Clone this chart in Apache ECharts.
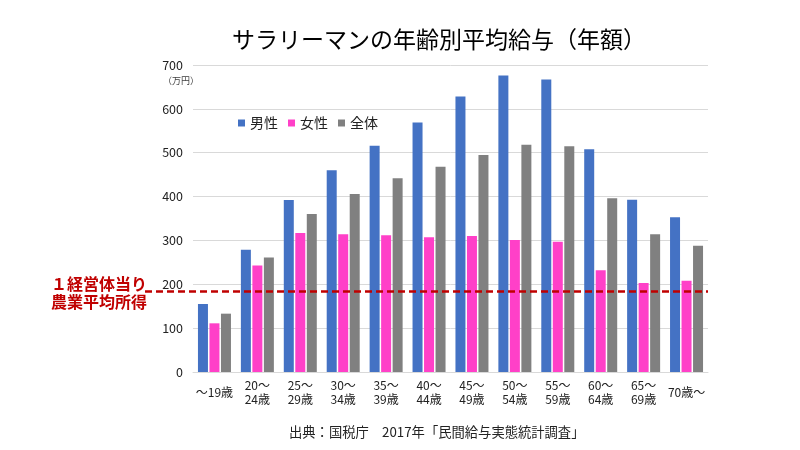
<!DOCTYPE html>
<html>
<head>
<meta charset="utf-8">
<script src="https://cdn.jsdelivr.net/npm/echarts@6/dist/echarts.min.js"></script>
<style>html,body{margin:0;padding:0;background:#fff;}#c{width:800px;height:450px;}</style>
</head>
<body>
<div id="c"></div>
<script>
const categories = ['～19歳','20～\n24歳','25～\n29歳','30～\n34歳','35～\n39歳','40～\n44歳','45～\n49歳','50～\n54歳','55～\n59歳','60～\n64歳','65～\n69歳','70歳～'];
const male   = [155, 279, 392, 460, 516, 569, 628, 676, 667, 508, 393, 353];
const female = [111, 243, 317, 314, 312, 307, 310, 301, 297, 232, 203, 208];
const total  = [133, 261, 360, 406, 442, 468, 495, 518, 515, 396, 314, 288];
const farmIncome = 185;
const yTicks = { min: 0, max: 700, interval: 100 };

const FONT = '"Noto Sans CJK JP", "Noto Sans", sans-serif';
const chart = echarts.init(document.getElementById('c'));
chart.setOption({
  backgroundColor: '#fff',
  animation: false,
  textStyle: { fontFamily: FONT },
  title: [
    { text: 'サラリーマンの年齢別平均給与（年額）', left: 227, top: 23,
      textStyle: { fontSize: 23, fontWeight: 'normal', color: '#000', fontFamily: FONT } },
    { text: '（万円）', left: 158, top: 71,
      textStyle: { fontSize: 9, fontWeight: 'normal', color: '#404040', fontFamily: FONT } },
    { text: '１経営体当り\n農業平均所得', left: 46, top: 270,
      textStyle: { fontSize: 16, fontWeight: 'bold', color: '#C00000', lineHeight: 18, fontFamily: FONT } },
    { text: '出典：国税庁　2017年「民間給与実態統計調査」', left: 284, top: 420,
      textStyle: { fontSize: 13.3, fontWeight: 'normal', color: '#222', fontFamily: FONT } }
  ],
  legend: {
    left: 233, top: 111, itemWidth: 7, itemHeight: 7, itemGap: 10, icon: 'rect',
    textStyle: { fontSize: 14, color: '#222', fontFamily: FONT },
    data: ['男性', '女性', '全体']
  },
  grid: [
    { left: 193, right: 92, top: 65, bottom: 78 },
    { left: 145, right: 92, top: 65, bottom: 78 }
  ],
  xAxis: [
    { type: 'category', data: categories, gridIndex: 0,
      axisLine: { lineStyle: { color: '#d9d9d9' } }, axisTick: { show: false },
      axisLabel: { color: '#222', fontSize: 12, lineHeight: 14, verticalAlign: 'middle', margin: 20, interval: 0, fontFamily: FONT } },
    { type: 'value', gridIndex: 1, show: false, min: 0, max: 1 }
  ],
  yAxis: [
    { type: 'value', gridIndex: 0, min: yTicks.min, max: yTicks.max, interval: yTicks.interval,
      axisLine: { show: false }, axisTick: { show: false },
      axisLabel: { color: '#222', fontSize: 12.5, margin: 10, fontFamily: FONT },
      splitLine: { lineStyle: { color: '#d9d9d9', width: 1 } } },
    { type: 'value', gridIndex: 1, show: false, min: yTicks.min, max: yTicks.max }
  ],
  series: [
    { name: '男性', type: 'bar', data: male, barWidth: 10, barGap: '15%', itemStyle: { color: '#4472C4' } },
    { name: '女性', type: 'bar', data: female, barWidth: 10, barGap: '15%', itemStyle: { color: '#FF40C8' } },
    { name: '全体', type: 'bar', data: total, barWidth: 10, barGap: '15%', itemStyle: { color: '#808080' } },
    { name: 'farm', type: 'line', xAxisIndex: 1, yAxisIndex: 1, data: [],
      markLine: { silent: true, symbol: 'none', label: { show: false },
        lineStyle: { color: '#C00000', width: 2.5, type: [7, 4] },
        data: [{ yAxis: farmIncome }] } }
  ]
});
</script>
</body>
</html>
